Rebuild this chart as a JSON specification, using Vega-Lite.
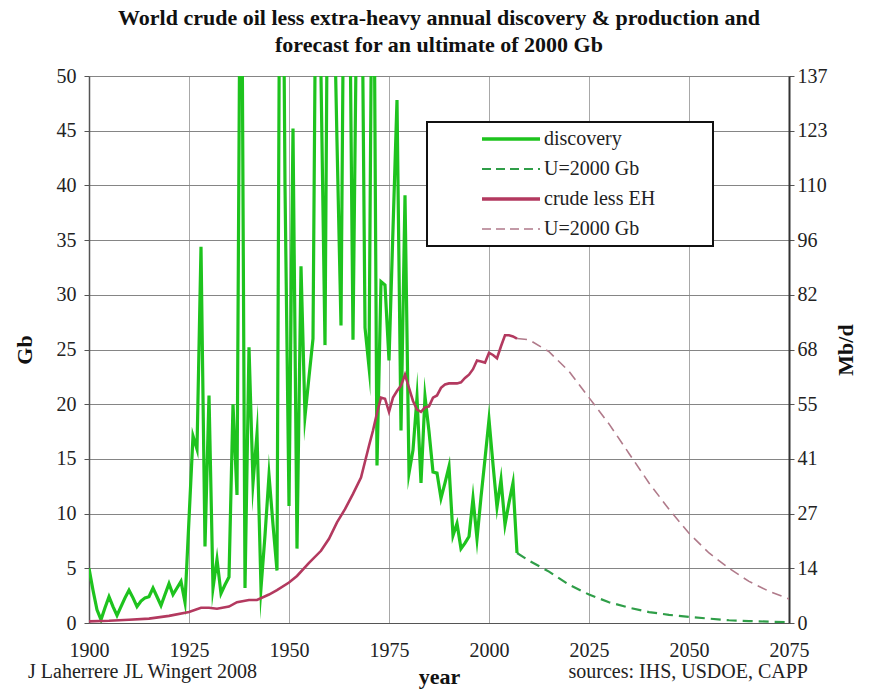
{
  "$schema": "https://vega.github.io/schema/vega-lite/v6.json",
  "width": 700,
  "height": 547,
  "autosize": {"type": "none"},
  "padding": {"left": 89, "top": 76, "right": 87, "bottom": 69},
  "background": "white",
  "title": {
    "text": ["World crude oil less extra-heavy annual discovery & production and", "forecast for an ultimate of 2000 Gb"],
    "font": "Liberation Serif", "fontSize": 22, "fontWeight": "bold", "lineHeight": 27,
    "offset": 9, "anchor": "middle", "color": "#111"
  },
  "config": {
    "view": {"stroke": null},
    "axis": {
      "labelFont": "Liberation Serif", "labelFontSize": 20, "labelColor": "#222",
      "titleFont": "Liberation Serif", "titleFontSize": 22, "titleFontWeight": "bold", "titleColor": "#111",
      "gridColor": "#858585", "gridWidth": 1, "domainColor": "#555", "tickColor": "#555"
    },
    "legend": {
      "orient": "none", "legendX": 338, "legendY": 46,
      "symbolType": "stroke", "symbolSize": 3364, "clipHeight": 30, "rowPadding": 0,
      "padding": 2, "symbolOffset": 0, "labelOffset": 4,
      "labelFont": "Liberation Serif", "labelFontSize": 20, "labelColor": "#222", "labelLimit": 400,
      "strokeColor": "#111", "fillColor": "white"
    }
  },
  "datasets": {
    "disc": [
      {"year":1900,"gb":5.0},{"year":1901,"gb":3.0},{"year":1902,"gb":1.2},{"year":1903,"gb":0.3},{"year":1904,"gb":1.4},
      {"year":1905,"gb":2.4},{"year":1906,"gb":1.5},{"year":1907,"gb":0.7},{"year":1908,"gb":1.5},{"year":1909,"gb":2.3},
      {"year":1910,"gb":3.0},{"year":1911,"gb":2.3},{"year":1912,"gb":1.5},{"year":1913,"gb":2.0},{"year":1914,"gb":2.3},
      {"year":1915,"gb":2.4},{"year":1916,"gb":3.2},{"year":1917,"gb":2.4},{"year":1918,"gb":1.6},{"year":1919,"gb":2.6},
      {"year":1920,"gb":3.6},{"year":1921,"gb":2.6},{"year":1922,"gb":3.2},{"year":1923,"gb":3.8},{"year":1924,"gb":1.9},
      {"year":1925,"gb":9.5},{"year":1926,"gb":17.1},{"year":1927,"gb":15.9},{"year":1928,"gb":34.4},{"year":1929,"gb":7.0},
      {"year":1930,"gb":20.8},{"year":1931,"gb":3.2},{"year":1932,"gb":5.8},{"year":1933,"gb":2.7},{"year":1934,"gb":3.5},
      {"year":1935,"gb":4.2},{"year":1936,"gb":20.0},{"year":1937,"gb":11.7},{"year":1938,"gb":75},{"year":1939,"gb":3.2},
      {"year":1940,"gb":25.2},{"year":1941,"gb":12.8},{"year":1942,"gb":17.3},{"year":1943,"gb":3.2},{"year":1944,"gb":8.0},
      {"year":1945,"gb":13.5},{"year":1946,"gb":9.0},{"year":1947,"gb":4.8},{"year":1948,"gb":90},{"year":1949,"gb":40},
      {"year":1950,"gb":10.7},{"year":1951,"gb":45.2},{"year":1952,"gb":6.8},{"year":1953,"gb":32.6},{"year":1954,"gb":18.9},
      {"year":1955,"gb":22.5},{"year":1956,"gb":26.0},{"year":1957,"gb":75},{"year":1958,"gb":50},{"year":1959,"gb":25.4},
      {"year":1960,"gb":80},{"year":1961,"gb":62},{"year":1962,"gb":44},{"year":1963,"gb":27.2},{"year":1964,"gb":75},
      {"year":1965,"gb":65},{"year":1966,"gb":25.9},{"year":1967,"gb":60},{"year":1968,"gb":70},{"year":1969,"gb":27},
      {"year":1970,"gb":23.4},{"year":1971,"gb":75},{"year":1972,"gb":14.4},{"year":1973,"gb":31.2},{"year":1974,"gb":30.9},
      {"year":1975,"gb":24.0},{"year":1976,"gb":36},{"year":1977,"gb":47.8},{"year":1978,"gb":17.6},{"year":1979,"gb":39.1},
      {"year":1980,"gb":13.7},{"year":1981,"gb":15.8},{"year":1982,"gb":20.6},{"year":1983,"gb":12.8},{"year":1984,"gb":20.7},
      {"year":1985,"gb":17.5},{"year":1986,"gb":13.8},{"year":1987,"gb":13.7},{"year":1988,"gb":11.4},{"year":1989,"gb":12.8},
      {"year":1990,"gb":14.3},{"year":1991,"gb":8.0},{"year":1992,"gb":9.1},{"year":1993,"gb":6.8},{"year":1994,"gb":7.3},
      {"year":1995,"gb":7.9},{"year":1996,"gb":11.4},{"year":1997,"gb":7.7},{"year":1998,"gb":11.5},{"year":1999,"gb":15.0},
      {"year":2000,"gb":18.6},{"year":2001,"gb":14.5},{"year":2002,"gb":10.6},{"year":2003,"gb":13.1},{"year":2004,"gb":9.0},
      {"year":2005,"gb":11.0},{"year":2006,"gb":12.8},{"year":2007,"gb":6.4}
    ],
    "discf": [
      {"year":2007,"gb":6.4},{"year":2010,"gb":5.7},{"year":2015,"gb":4.7},{"year":2020,"gb":3.5},{"year":2025,"gb":2.6},
      {"year":2030,"gb":1.9},{"year":2035,"gb":1.4},{"year":2040,"gb":1.0},{"year":2045,"gb":0.75},{"year":2050,"gb":0.55},
      {"year":2055,"gb":0.4},{"year":2060,"gb":0.25},{"year":2065,"gb":0.18},{"year":2070,"gb":0.12},{"year":2075,"gb":0.08}
    ],
    "prod": [
      {"year":1900,"gb":0.15},{"year":1905,"gb":0.2},{"year":1910,"gb":0.3},{"year":1915,"gb":0.4},{"year":1920,"gb":0.65},
      {"year":1925,"gb":1.0},{"year":1928,"gb":1.4},{"year":1930,"gb":1.4},{"year":1932,"gb":1.3},{"year":1935,"gb":1.5},
      {"year":1937,"gb":1.9},{"year":1940,"gb":2.1},{"year":1942,"gb":2.1},{"year":1945,"gb":2.6},{"year":1947,"gb":3.0},
      {"year":1950,"gb":3.7},{"year":1952,"gb":4.3},{"year":1955,"gb":5.5},{"year":1958,"gb":6.6},{"year":1960,"gb":7.7},
      {"year":1962,"gb":9.2},{"year":1964,"gb":10.4},{"year":1966,"gb":11.8},{"year":1968,"gb":13.3},{"year":1970,"gb":16.2},
      {"year":1971,"gb":17.6},{"year":1972,"gb":19.2},
      {"year":1973,"gb":20.6},{"year":1974,"gb":20.5},{"year":1975,"gb":19.3},{"year":1976,"gb":20.6},{"year":1977,"gb":21.2},
      {"year":1978,"gb":21.7},{"year":1979,"gb":22.7},{"year":1980,"gb":21.5},{"year":1981,"gb":20.3},{"year":1982,"gb":19.5},
      {"year":1983,"gb":19.3},{"year":1984,"gb":19.7},{"year":1985,"gb":19.8},{"year":1986,"gb":20.6},{"year":1987,"gb":20.8},
      {"year":1988,"gb":21.5},{"year":1989,"gb":21.8},{"year":1990,"gb":21.9},{"year":1991,"gb":21.9},{"year":1992,"gb":21.9},
      {"year":1993,"gb":22.0},{"year":1994,"gb":22.4},{"year":1995,"gb":22.7},{"year":1996,"gb":23.2},{"year":1997,"gb":24.0},
      {"year":1998,"gb":23.9},{"year":1999,"gb":23.8},{"year":2000,"gb":24.7},{"year":2001,"gb":24.5},{"year":2002,"gb":24.2},
      {"year":2003,"gb":25.3},{"year":2004,"gb":26.3},{"year":2005,"gb":26.3},{"year":2006,"gb":26.2},{"year":2007,"gb":26.0}
    ],
    "prodf": [
      {"year":2007,"gb":26.0},{"year":2010,"gb":25.9},{"year":2015,"gb":24.8},{"year":2020,"gb":23.0},{"year":2025,"gb":20.6},
      {"year":2030,"gb":18.2},{"year":2035,"gb":15.5},{"year":2040,"gb":12.8},{"year":2045,"gb":10.4},{"year":2050,"gb":8.2},
      {"year":2055,"gb":6.4},{"year":2060,"gb":5.0},{"year":2065,"gb":3.8},{"year":2070,"gb":2.9},{"year":2075,"gb":2.2}
    ],
    "notes": [{"t": "x"}]
  },
  "resolve": {"axis": {"y": "independent"}},
  "layer": [
    {
      "data": {"name": "disc"},
      "mark": {"type": "line", "clip": true, "strokeWidth": 3.2, "strokeJoin": "miter", "strokeMiterLimit": 20},
      "encoding": {
        "x": {"field": "year", "type": "quantitative",
          "scale": {"domain": [1900, 2075], "nice": false, "zero": false},
          "axis": {"values": [1900,1925,1950,1975,2000,2025,2050,2075], "format": "d", "grid": true, "ticks": false,
            "gridColor": "#a8a8a8",
            "labelFlush": false, "labelPadding": 17, "title": "year", "titlePadding": 6, "domainColor": "#555"}},
        "y": {"field": "gb", "type": "quantitative",
          "scale": {"domain": [0, 50], "nice": false},
          "axis": {"orient": "left", "values": [0,5,10,15,20,25,30,35,40,45,50], "grid": true, "tickSize": 5,
            "domainWidth": 1.5, "labelPadding": 8, "title": "Gb", "titlePadding": 20}},
        "color": {"datum": "d1", "type": "nominal",
          "scale": {"domain": ["d1","d2","p1","p2"], "range": ["#1ec31e","#2f9e48","#b3395f","#b07a8a"]},
          "legend": {
            "title": null,
            "labelExpr": "datum.label == 'd1' ? 'discovery' : datum.label == 'p1' ? 'crude less EH\u2800 \u2800 \u2800' : 'U=2000 Gb'",
            "encode": {
              "legend": {"update": {"strokeWidth": {"value": 2}}},
              "symbols": {"update": {
                "x": {"value": 82},
                "strokeDash": {"signal": "datum.value == 'd2' || datum.value == 'p2' ? [9,5] : [1,0]"},
                "strokeWidth": {"signal": "datum.value == 'd2' ? 2.2 : datum.value == 'p2' ? 1.5 : 3.5"}
              }},
              "labels": {"update": {"x": {"value": 115}}}
            }
          }}
      }
    },
    {
      "data": {"name": "discf"},
      "mark": {"type": "line", "clip": true, "strokeWidth": 2.2, "strokeDash": [10, 6]},
      "encoding": {
        "x": {"field": "year", "type": "quantitative"},
        "y": {"field": "gb", "type": "quantitative", "axis": null},
        "color": {"datum": "d2", "type": "nominal"}
      }
    },
    {
      "data": {"name": "prod"},
      "mark": {"type": "line", "clip": true, "strokeWidth": 2.6},
      "encoding": {
        "x": {"field": "year", "type": "quantitative"},
        "y": {"field": "gb", "type": "quantitative", "axis": null},
        "color": {"datum": "p1", "type": "nominal"}
      }
    },
    {
      "data": {"name": "prodf"},
      "mark": {"type": "line", "clip": true, "strokeWidth": 1.6, "strokeDash": [10, 6]},
      "encoding": {
        "x": {"field": "year", "type": "quantitative"},
        "y": {"field": "gb", "type": "quantitative", "axis": null},
        "color": {"datum": "p2", "type": "nominal"}
      }
    },
    {
      "data": {"name": "notes"},
      "mark": {"type": "text", "text": "J Laherrere JL Wingert 2008", "align": "left", "baseline": "middle",
        "font": "Liberation Serif", "fontSize": 20, "color": "#222", "clip": false},
      "encoding": {
        "x": {"datum": 1884.75, "type": "quantitative"},
        "y": {"datum": -4.5, "type": "quantitative",
          "axis": {"orient": "right", "values": [0,5,10,15,20,25,30,35,40,45,50], "grid": false, "tickSize": 5,
            "labelPadding": 3, "domainWidth": 2, "domainColor": "#333",
            "labelExpr": "['0','14','27','41','55','68','82','96','110','123','137'][round(datum.value/5)]",
            "title": "Mb/d", "titleAngle": -90, "titlePadding": 30}}
      }
    },
    {
      "data": {"name": "notes"},
      "mark": {"type": "text", "text": "sources: IHS, USDOE, CAPP", "align": "right", "baseline": "middle",
        "font": "Liberation Serif", "fontSize": 20, "color": "#222", "clip": false},
      "encoding": {
        "x": {"datum": 2079.75, "type": "quantitative"},
        "y": {"datum": -4.5, "type": "quantitative", "axis": null}
      }
    }
  ]
}
